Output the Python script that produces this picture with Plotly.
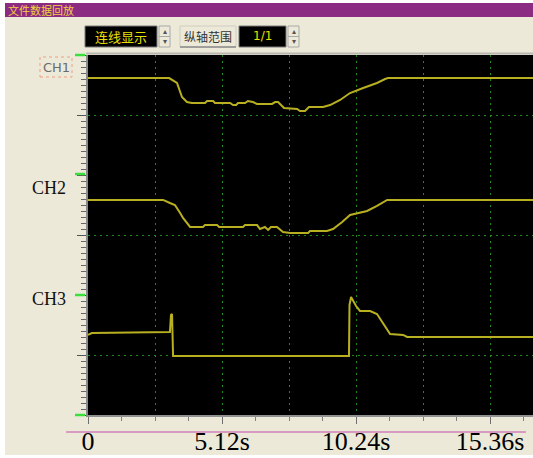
import plotly.graph_objects as go

# ---------------- data (time in s, value in % of channel height) ----------------
ch1_t = [0, 3.10, 3.40, 3.59, 3.78, 3.97, 4.47, 4.55, 4.78, 4.85, 5.43, 5.54, 5.66, 5.73, 6.00,
         6.11, 6.30, 6.46, 7.03, 7.15, 7.26, 7.49, 7.99, 8.10, 8.29, 8.44, 8.98, 9.25, 9.63,
         10.01, 10.51, 11.04, 11.35, 11.46, 17.0]
ch1_v = [80.8, 80.8, 76.7, 65.0, 60.8, 60.0, 60.0, 61.7, 61.7, 60.0, 60.0, 58.3, 58.3, 60.0, 60.0,
         61.7, 60.8, 59.2, 59.2, 60.8, 60.8, 55.8, 55.0, 53.3, 53.3, 56.7, 56.7, 58.3, 62.5,
         68.3, 72.5, 76.7, 80.0, 80.8, 80.8]

ch2_t = [0, 2.87, 3.13, 3.32, 3.52, 3.63, 3.90, 4.39, 4.47, 4.93, 5.01, 5.92, 6.00, 6.46, 6.57,
         6.76, 6.88, 6.99, 7.22, 7.45, 7.72, 8.41, 8.48, 9.13, 9.36, 9.71, 10.01, 10.28, 10.66,
         11.04, 11.35, 11.43, 17.0]
ch2_v = [79.2, 79.2, 76.7, 75.0, 68.3, 64.2, 56.7, 56.7, 58.3, 58.3, 56.7, 56.7, 58.3, 58.3, 55.0,
         56.7, 54.2, 56.7, 56.7, 52.5, 51.7, 51.7, 53.3, 53.3, 55.0, 60.8, 66.7, 68.3, 70.0,
         74.2, 78.3, 79.2, 79.2]

ch3_t = [0, 0.15, 3.13, 3.17, 3.21, 3.25, 9.97, 9.99, 10.05, 10.13, 10.24, 10.39, 10.78, 11.04,
         11.23, 11.43, 11.54, 12.04, 12.19, 17.0]
ch3_v = [66.7, 68.3, 69.2, 83.3, 84.2, 49.2, 49.2, 91.7, 98.3, 95.0, 90.8, 86.7, 86.7, 84.2,
         77.5, 70.8, 67.5, 66.7, 65.0, 65.0]

x_tickvals = [0, 2.56, 5.12, 7.68, 10.24, 12.80, 15.36]
x_ticktext = ["0", "", "5.12s", "", "10.24s", "", "15.36s"]
x_minorvals = [0.00, 1.28, 2.56, 3.84, 5.12, 6.40, 7.68, 8.96, 10.24, 11.52, 12.80, 14.08, 15.36, 16.64]
x_range = [0, 17.0]
channel_names = ["CH1", "CH2", "CH3"]

# ---------------- geometry helpers (pixels -> paper) ----------------
W, H = 533, 458
L, R, T, B = 88, 533, 55, 415


def px(x):
    return (x - L) / (R - L)


def py(y):
    return (B - y) / (B - T)


BEIGE = "#ECE9D8"
TRACE = "#B8B020"
GRID = "#1E8A1E"

fig = go.Figure()
for name, t, v, ya in [(channel_names[0], ch1_t, ch1_v, "y"),
                       (channel_names[1], ch2_t, ch2_v, "y2"),
                       (channel_names[2], ch3_t, ch3_v, "y3")]:
    fig.add_trace(go.Scatter(x=t, y=v, mode="lines", name=name, xaxis="x", yaxis=ya,
                             line=dict(color=TRACE, width=2), hoverinfo="skip"))


def yax(domain):
    return dict(domain=domain, range=[0, 100], anchor="x", showgrid=True, gridcolor=GRID,
                griddash="2px,4px", gridwidth=1, zeroline=False, showline=True,
                linecolor="#8a8a8a", linewidth=2, ticks="outside", ticklen=9,
                tickcolor="#555555", tickwidth=1, tickmode="linear", tick0=0, dtick=50,
                showticklabels=False, fixedrange=True, automargin=False,
                minor=dict(ticks="outside", ticklen=5, tickmode="linear", tick0=0, dtick=5,
                           tickcolor="#666666", showgrid=False))


shapes = []


def rect(x0, y0, x1, y1, fill, line_color=None, lw=0, layer="above"):
    shapes.append(dict(type="rect", xref="paper", yref="paper", x0=px(x0), x1=px(x1),
                       y0=py(y1), y1=py(y0), fillcolor=fill,
                       line=dict(width=lw, color=line_color or fill), layer=layer))


def hline(x0, x1, y, color, w=1):
    shapes.append(dict(type="line", xref="paper", yref="paper", x0=px(x0), x1=px(x1),
                       y0=py(y), y1=py(y), line=dict(color=color, width=w), layer="above"))


# window borders and title bar
rect(0, 0, 533, 3, "white")
rect(0, 0, 5, 458, "white")
rect(0, 455, 533, 458, "white", layer="below")
rect(5, 3, 533, 17, "#8B2B82")

# controls
rect(85, 26, 157, 47, "black", "#7a7a7a", 1)
rect(159, 26, 170, 47, BEIGE, "#a8a8a8", 1)
hline(159, 170, 36.5, "#a8a8a8")
rect(180, 26, 236, 47, BEIGE, "#d0ccc0", 1)
hline(180, 236, 47, "#8a8a8a", 1.5)
rect(239, 26, 286, 47, "black", "#7a7a7a", 1)
rect(288, 26, 299, 47, BEIGE, "#a8a8a8", 1)
hline(288, 299, 36.5, "#a8a8a8")

# frame line above plot
hline(86, 533, 53.5, "#b8b8b0", 2)
# green channel markers
for yy in [55, 174, 295, 415]:
    hline(75, 85, yy, "#3CE03C", 2.5)
# pink separator line above tick labels
hline(66, 526, 432, "#D89AC0", 2)
# CH1 focus rectangle
shapes.append(dict(type="rect", xref="paper", yref="paper", x0=px(40), x1=px(72), y0=py(77),
                   y1=py(57), line=dict(color="#F0A080", width=1, dash="dot"), layer="above"))

annotations = []


def text(x, y, s, size, color, family, xanchor="center"):
    annotations.append(dict(x=px(x), y=py(y), xref="paper", yref="paper", text=s, showarrow=False,
                            xanchor=xanchor, yanchor="middle",
                            font=dict(size=size, color=color, family=family)))


text(6, 10, "文件数据回放", 11, "#F2D040", "Noto Sans CJK SC", "left")
text(121, 36.5, "连线显示", 13, "#E8E000", "Noto Sans CJK SC")
text(208, 36.5, "纵轴范围", 12, "#333333", "Noto Sans CJK SC")
text(262.5, 36.5, "1/1", 12, "#E8E000", "DejaVu Sans")
for xc in [164.5, 293.5]:
    text(xc, 31, "▴", 8, "#555555", "DejaVu Sans")
    text(xc, 42, "▾", 8, "#555555", "DejaVu Sans")
text(56, 67, "CH1", 13, "#6a6a6a", "DejaVu Sans")
text(68, 188, "CH2", 18, "#111111", "Liberation Serif", "right")
text(68, 299, "CH3", 18, "#111111", "Liberation Serif", "right")

fig.update_layout(
    width=W, height=H,
    margin=dict(l=L, r=W - R, t=T, b=H - B, pad=0),
    paper_bgcolor=BEIGE, plot_bgcolor="black", showlegend=False,
    xaxis=dict(range=x_range, anchor="y3", tickmode="array", tickvals=x_tickvals,
               ticktext=x_ticktext, showgrid=True, gridcolor=GRID, griddash="2px,4px",
               gridwidth=1, zeroline=False, showline=True, linecolor="#909090", linewidth=2,
               ticks="outside", ticklen=7, tickcolor="#707070", tickwidth=1,
               tickfont=dict(family="Liberation Serif", size=26, color="black"),
               ticklabelstandoff=-5, automargin=False, fixedrange=True,
               minor=dict(ticks="outside", ticklen=4, tickmode="array", tickvals=x_minorvals,
                          tickcolor="#808080", showgrid=False)),
    yaxis=yax([2 / 3, 1]),
    yaxis2=yax([1 / 3, 2 / 3]),
    yaxis3=yax([0, 1 / 3]),
    shapes=shapes,
    annotations=annotations,
)

fig.write_html("out.html", config={"displayModeBar": False},
               post_script="document.body.style.margin='0';document.body.style.overflow='hidden';")
